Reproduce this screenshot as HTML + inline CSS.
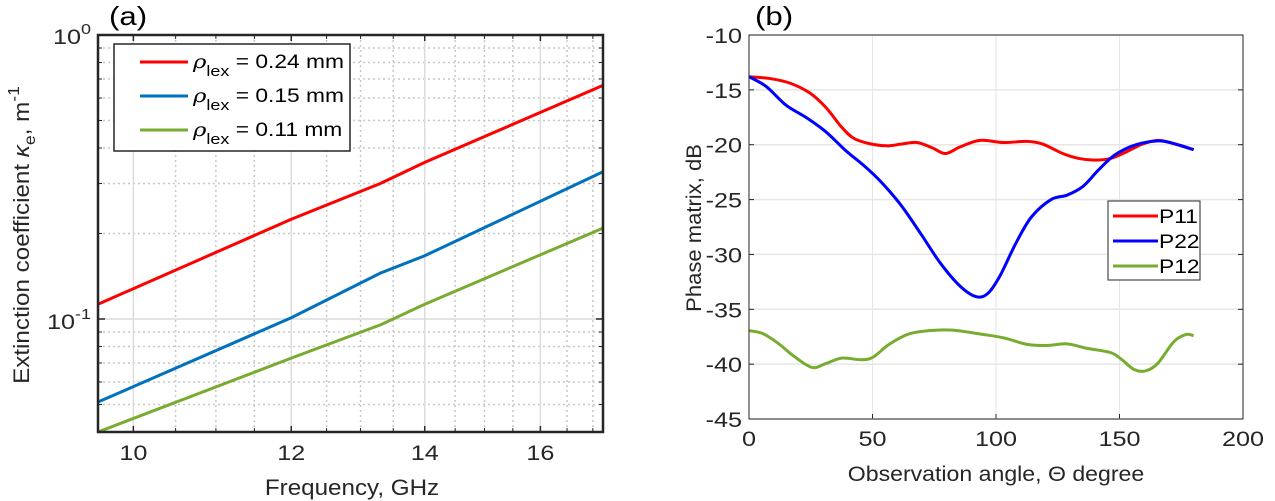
<!DOCTYPE html>
<html><head><meta charset="utf-8"><style>
body{margin:0;background:#fff;}
svg{display:block;font-family:"Liberation Sans",Arial,sans-serif;}
</style></head><body>
<svg id="s" width="1275" height="501" viewBox="0 0 1275 501">
<g id="A"></g>
<g id="B"></g>
</svg>
<script>
// ---- chart (a) data ----
const freqs = [9.6, 12, 13.3, 14, 17.2];
const k024 = [0.1127, 0.2245, 0.30, 0.356, 0.665];
const k015 = [0.051, 0.101, 0.145, 0.167, 0.33];
const k011 = [0.04, 0.0728, 0.0953, 0.1127, 0.209];
const xTicksA = [10, 12, 14, 16];
const xMinorA = [10.5, 11, 11.5, 12.5, 13, 13.5, 14.5, 15, 15.5, 16.5, 17];
const yMinorA = [0.05,0.06,0.07,0.08,0.09,0.2,0.3,0.4,0.5,0.6,0.7,0.8,0.9];
const legendA = ["0.24 mm", "0.15 mm", "0.11 mm"];
// ---- chart (b) data ----
const angP11 = [0,8.6,16.7,24.7,31.1,37.5,42.3,48.7,55.9,61.5,68,74.3,79.6,85.5,93.5,103,112.7,119,127,133.5,139.9,146.4,152.8,159.2,165.6,172,180];
const p11 = [-13.8,-13.97,-14.4,-15.3,-16.6,-18.4,-19.4,-19.9,-20.1,-19.95,-19.8,-20.3,-20.8,-20.2,-19.6,-19.8,-19.7,-19.95,-20.8,-21.25,-21.4,-21.25,-20.65,-19.95,-19.6,-19.9,-20.45];
const angP22 = [0,7,15,23,31,39,47,53.5,61.5,69.5,77.5,85.5,92,96.7,101.5,108,114.3,122.3,128.7,135.2,141.5,148,156,165.6,172,180];
const p22 = [-13.8,-14.7,-16.4,-17.5,-18.8,-20.5,-22.0,-23.4,-25.5,-28.1,-30.8,-32.9,-33.85,-33.55,-32.0,-29.0,-26.6,-25.0,-24.6,-23.8,-22.3,-20.95,-20.05,-19.65,-19.9,-20.45];
const angP12 = [0,5.4,11.8,18.3,25.5,31.1,37.5,45.5,50.3,56.7,64.7,72.7,82.3,93.5,103,112.7,120.7,128.7,136.7,146.4,151,156,160.8,165.6,172,176.8,180];
const p12 = [-36.95,-37.2,-38.1,-39.3,-40.3,-39.95,-39.45,-39.6,-39.35,-38.2,-37.25,-36.95,-36.9,-37.25,-37.6,-38.2,-38.3,-38.15,-38.55,-38.95,-39.6,-40.5,-40.6,-39.9,-37.95,-37.3,-37.4];
const xTicksB = [0, 50, 100, 150, 200];
const yTicksB = [-10,-15,-20,-25,-30,-35,-40,-45];
const legendB = ["P11", "P22", "P12"];

const NS = "http://www.w3.org/2000/svg";
function mk(parent, tag, attrs, text) {
  const e = document.createElementNS(NS, tag);
  for (const k in attrs) e.setAttribute(k, attrs[k]);
  if (text !== undefined) e.textContent = text;
  parent.appendChild(e);
  return e;
}
function txt(parent, x, y, str, size, anchor, sx) {
  const tr = "translate(" + x + "," + y + ") scale(" + (sx || 1.2) + ",1)";
  return mk(parent, "text", {transform: tr, x: 0, y: 0, "text-anchor": anchor || "start", "font-size": size, fill: "#262626"}, str);
}
function smoothPath(pts) {
  let d = "M" + pts[0][0] + "," + pts[0][1];
  for (let i = 0; i < pts.length - 1; i++) {
    const p0 = pts[Math.max(0, i - 1)], p1 = pts[i], p2 = pts[i + 1], p3 = pts[Math.min(pts.length - 1, i + 2)];
    const c1x = p1[0] + (p2[0] - p0[0]) / 6, c1y = p1[1] + (p2[1] - p0[1]) / 6;
    const c2x = p2[0] - (p3[0] - p1[0]) / 6, c2y = p2[1] - (p3[1] - p1[1]) / 6;
    d += " C" + c1x + "," + c1y + " " + c2x + "," + c2y + " " + p2[0] + "," + p2[1];
  }
  return d;
}

// ===== Chart A =====
const A = document.getElementById("A");
const aL = 98, aR = 603, aT = 35, aB = 432;
const xMinA = 9.6, xMaxA = 17.2, yMinA = 0.04, yMaxA = 1;
const xA = v => aL + (Math.log10(v) - Math.log10(xMinA)) / (Math.log10(xMaxA) - Math.log10(xMinA)) * (aR - aL);
const yA = v => aB - (Math.log10(v) - Math.log10(yMinA)) / (Math.log10(yMaxA) - Math.log10(yMinA)) * (aB - aT);

xMinorA.forEach(v => {
  const g = mk(A, "line", {x1: xA(v), x2: xA(v), y1: aT, y2: aB, stroke: "#c8c8c8", "stroke-width": 1.5, "stroke-dasharray": "2,3"});
  
  
  mk(A, "line", {x1: xA(v), x2: xA(v), y1: aB, y2: aB - 4, stroke: "#262626", "stroke-width": 1});
  mk(A, "line", {x1: xA(v), x2: xA(v), y1: aT, y2: aT + 4, stroke: "#262626", "stroke-width": 1});
});
yMinorA.forEach(v => {
  const g = mk(A, "line", {x1: aL, x2: aR, y1: yA(v), y2: yA(v), stroke: "#c8c8c8", "stroke-width": 1.5, "stroke-dasharray": "2,3"});
  
  
  mk(A, "line", {x1: aL, x2: aL + 4, y1: yA(v), y2: yA(v), stroke: "#262626", "stroke-width": 1});
  mk(A, "line", {x1: aR, x2: aR - 4, y1: yA(v), y2: yA(v), stroke: "#262626", "stroke-width": 1});
});
xTicksA.forEach(v => {
  const g = mk(A, "line", {x1: xA(v), x2: xA(v), y1: aT, y2: aB, stroke: "#dcdcdc", "stroke-width": 1.5});
  
  
  mk(A, "line", {x1: xA(v), x2: xA(v), y1: aB, y2: aB - 6, stroke: "#262626", "stroke-width": 1.5});
  mk(A, "line", {x1: xA(v), x2: xA(v), y1: aT, y2: aT + 6, stroke: "#262626", "stroke-width": 1.5});
  const t = txt(A, xA(v), 460, String(v), 21, "middle");
  
  
});
{
  const g = mk(A, "line", {x1: aL, x2: aR, y1: yA(0.1), y2: yA(0.1), stroke: "#dcdcdc", "stroke-width": 1.5});
  
  
  mk(A, "line", {x1: aL, x2: aL + 7, y1: yA(0.1), y2: yA(0.1), stroke: "#262626", "stroke-width": 1.5});
  mk(A, "line", {x1: aR, x2: aR - 7, y1: yA(0.1), y2: yA(0.1), stroke: "#262626", "stroke-width": 1.5});
}
[[1, "0", yA(1) + 9], [0.1, "-1", yA(0.1) + 10]].forEach(([v, e, y]) => {
  const t = txt(A, 91, y, "", 21, "end");
  
  
  mk(t, "tspan", {}, "10");
  mk(t, "tspan", {dy: -10, "font-size": 15}, e);
});
const colA = ["#ff0000", "#0072bd", "#77ac30"];
[k024, k015, k011].forEach((s, i) => {
  const d = "M" + freqs.map((f, j) => xA(f) + "," + yA(s[j])).join(" L");
  const p = mk(A, "path", {d: d, fill: "none", stroke: colA[i], "stroke-width": 3});
  
  
});
mk(A, "rect", {x: aL, y: aT, width: aR - aL, height: aB - aT, fill: "none", stroke: "#262626", "stroke-width": 2.5});
// legend A
{
  const lg = mk(A, "g", {});
  
  
  mk(lg, "rect", {x: 114, y: 44, width: 236, height: 107, fill: "#fff", stroke: "#262626", "stroke-width": 1.5});
  legendA.forEach((lab, i) => {
    const y = 61 + i * 34;
    mk(lg, "line", {x1: 140, x2: 188, y1: y + 1, y2: y + 1, stroke: colA[i], "stroke-width": 3});
    const t = txt(lg, 193, y + 7, "", 19, "start");
    t.setAttribute('fill', '#000');
    
    
    mk(t, "tspan", {"font-style": "italic", "font-family": "'DejaVu Serif',serif"}, "ρ");
    mk(t, "tspan", {dy: 8, "font-size": 15}, "lex");
    mk(t, "tspan", {dy: -8}, " = " + lab);
  });
}
{
  const t = txt(A, 352, 495, "Frequency, GHz", 22, "middle", 1.1);
  
  
  const yt = mk(A, "text", {transform: "translate(29,235) rotate(-90) scale(1.1,1)", "text-anchor": "middle", "font-size": 22, fill: "#262626"});
  
  
  mk(yt, "tspan", {}, "Extinction coefficient ");
  mk(yt, "tspan", {"font-style": "italic"}, "κ");
  mk(yt, "tspan", {dy: 6, "font-size": 16}, "e");
  mk(yt, "tspan", {dy: -6}, ", m");
  mk(yt, "tspan", {dy: -10, "font-size": 16}, "-1");
  const pl = txt(A, 109, 25, "(a)", 26, "start");
  pl.setAttribute('fill', '#000');
  
  
}

// ===== Chart B =====
const B = document.getElementById("B");
const bL = 749, bR = 1243, bT = 35, bB = 419;
const xB = v => bL + (v - 0) / 200 * (bR - bL);
const yB = v => bT + (-10 - v) / 35 * (bB - bT);
xTicksB.forEach(v => {
  const g = mk(B, "line", {x1: xB(v), x2: xB(v), y1: bT, y2: bB, stroke: "#e6e6e6", "stroke-width": 1});
  
  
  mk(B, "line", {x1: xB(v), x2: xB(v), y1: bB, y2: bB - 5, stroke: "#262626", "stroke-width": 1});
  const t = txt(B, xB(v), 446, String(v), 21, "middle");
  
  
});
yTicksB.forEach(v => {
  const g = mk(B, "line", {x1: bL, x2: bR, y1: yB(v), y2: yB(v), stroke: "#e6e6e6", "stroke-width": 1.5});
  
  
  mk(B, "line", {x1: bL, x2: bL + 5, y1: yB(v), y2: yB(v), stroke: "#262626", "stroke-width": 1});
  mk(B, "line", {x1: bR, x2: bR - 5, y1: yB(v), y2: yB(v), stroke: "#262626", "stroke-width": 1});
  const t = txt(B, 742, yB(v) + 8, String(v), 21, "end");
  
  
});
const colB = ["#ff0000", "#0000ff", "#77ac30"];
[[angP11, p11], [angP22, p22], [angP12, p12]].forEach(([xs, ys], i) => {
  const p = mk(B, "path", {d: smoothPath(xs.map((x, j) => [xB(x), yB(ys[j])])), fill: "none", stroke: colB[i], "stroke-width": 3});
  
  
});
mk(B, "rect", {x: bL, y: bT, width: bR - bL, height: bB - bT, fill: "none", stroke: "#262626", "stroke-width": 1});
{
  const lg = mk(B, "g", {});
  
  
  mk(lg, "rect", {x: 1108, y: 201, width: 92, height: 79, fill: "#fff", stroke: "#262626", "stroke-width": 1});
  legendB.forEach((lab, i) => {
    const y = 216 + i * 25;
    mk(lg, "line", {x1: 1113, x2: 1158, y1: y, y2: y, stroke: colB[i], "stroke-width": 3});
    const t = txt(lg, 1159, y + 7, lab, 19, "start");
    t.setAttribute('fill', '#000');
    
    
  });
}
{
  const t = txt(B, 996, 481, "Observation angle, Θ degree", 21, "middle", 1.1);
  
  
  const yt = mk(B, "text", {transform: "translate(701,228) rotate(-90) scale(1.05,1)", "text-anchor": "middle", "font-size": 21, fill: "#262626"}, "Phase matrix, dB");
  
  
  const pl = txt(B, 755, 25, "(b)", 26, "start");
  pl.setAttribute('fill', '#000');
  
  
}
</script>
</body></html>
